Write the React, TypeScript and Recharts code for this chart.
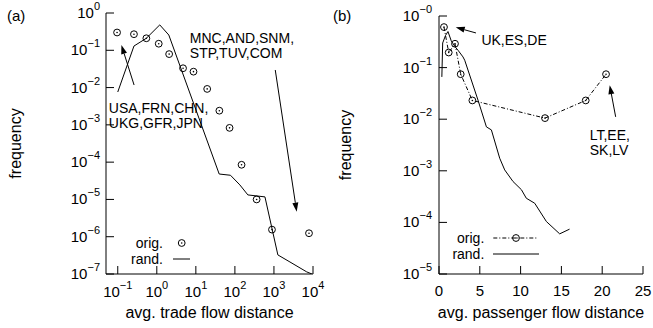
import React from "react";
import {
  Legend,
  ReferenceDot,
  ReferenceLine,
  Scatter,
  ScatterChart,
  XAxis,
  YAxis,
} from "recharts";

// (a) trade flow, log-log
const tradeXTicks = [0.1, 1, 10, 100, 1000, 10000];
const tradeXExp = ["−1", "0", "1", "2", "3", "4"];
const tradeYTicks = [1e-7, 1e-6, 1e-5, 1e-4, 1e-3, 1e-2, 1e-1, 1];
const tradeYExp = ["−7", "−6", "−5", "−4", "−3", "−2", "−1", "0"];

const tradeOrigX = [0.096, 0.26, 0.54, 1.12, 2.07, 4.7, 8.7, 19.5, 40, 73, 148, 360, 890, 7900];
const tradeOrigY = [0.3, 0.27, 0.21, 0.15, 0.079, 0.033, 0.0267, 0.0092, 0.0024, 0.00083, 8.5e-5, 1.0e-5, 1.55e-6, 1.24e-6];

const tradeRandX = [0.1, 0.26, 0.54, 1.19, 2.03, 39.6, 77, 134, 215, 588, 1260, 2570, 6900, 9400];
const tradeRandY = [0.0076, 0.13, 0.21, 0.48, 0.257, 4.8e-5, 4.45e-5, 2.45e-5, 1.32e-5, 1.17e-5, 3.25e-7, 2.1e-7, 1.14e-7, 1e-7];

// (b) passenger flow, lin-log
const passXTicks = [0, 5, 10, 15, 20, 25];
const passYTicks = [1e-5, 1e-4, 1e-3, 1e-2, 1e-1, 1];
const passYExp = ["−5", "−4", "−3", "−2", "−1", "−0"];

const passOrigX = [0.61, 1.19, 1.96, 2.66, 4.09, 12.99, 17.98, 20.47];
const passOrigY = [0.61, 0.196, 0.29, 0.0745, 0.0231, 0.0105, 0.0231, 0.0745];

const passRandX = [0.35, 0.45, 0.8, 1.1, 1.5, 2.0, 2.33, 2.94, 3.15, 4.78, 5.81, 6.42, 7.44, 8.05, 9.07, 10.1, 10.7, 11.73, 13.16, 14.79, 16.0];
const passRandY = [0.066, 0.3, 0.42, 0.5, 0.33, 0.25, 0.217, 0.161, 0.139, 0.0234, 0.0071, 0.0062, 0.00175, 0.00104, 0.00062, 0.00043, 0.000294, 0.000235, 0.000104, 6.0e-5, 7.4e-5];

const zip = (xs: number[], ys: number[]) => xs.map((x, i) => ({ x, y: ys[i] }));

const FONT = "'Liberation Sans', Arial, Helvetica, sans-serif";
const TICK_FS = 15;
const SUP_FS = 11;
const TITLE_FS = 16;
const LEG_FS = 14;

function Ring(props: any) {
  const { cx, cy } = props;
  return (
    <g>
      <circle cx={cx} cy={cy} r={3.4} fill="none" stroke="#000" strokeWidth={1} />
      <circle cx={cx} cy={cy} r={0.8} fill="#000" />
    </g>
  );
}

const NoDot = () => <g />;
const NoTick = () => <g />;

function Arrow(props: any) {
  const { x1, y1, x2, y2 } = props;
  const a = Math.atan2(y2 - y1, x2 - x1);
  const L = 9;
  const W = 3;
  const bx = x2 - L * Math.cos(a);
  const by = y2 - L * Math.sin(a);
  const px = -Math.sin(a) * W;
  const py = Math.cos(a) * W;
  return (
    <g>
      <line x1={x1} y1={y1} x2={bx} y2={by} stroke="#000" strokeWidth={1} />
      <polygon points={`${x2},${y2} ${bx + px},${by + py} ${bx - px},${by - py}`} fill="#000" />
    </g>
  );
}

function textBlock(lines: string[]) {
  return (props: any) => (
    <text x={props.cx} y={props.cy} fontSize={14} fill="#000">
      {lines.map((l, i) => (
        <tspan key={i} x={props.cx} dy={i === 0 ? 0 : 15}>
          {l}
        </tspan>
      ))}
    </text>
  );
}

// look the exponent up by tick value, so dropped ticks can't shift labels
function expOf(ticks: number[], exps: string[], v: number) {
  let best = 0;
  ticks.forEach((t, i) => {
    if (Math.abs(Math.log10(t) - Math.log10(v)) < Math.abs(Math.log10(ticks[best]) - Math.log10(v))) best = i;
  });
  return exps[best];
}

function powXTick(ticks: number[], exps: string[]) {
  return (props: any) => {
    const { x, y, payload } = props;
    return (
      <text x={x} y={y + 23} textAnchor="middle" fontSize={TICK_FS} fill="#000">
        10
        <tspan dy={-8} fontSize={SUP_FS}>
          {expOf(ticks, exps, payload.value)}
        </tspan>
      </text>
    );
  };
}

function powYTick(ticks: number[], exps: string[]) {
  return (props: any) => {
    const { x, y, payload } = props;
    return (
      <text x={x} y={y + 5} textAnchor="end" fontSize={TICK_FS} fill="#000">
        10
        <tspan dy={-8} fontSize={SUP_FS}>
          {expOf(ticks, exps, payload.value)}
        </tspan>
      </text>
    );
  };
}

function numXTick(props: any) {
  const { x, y, payload } = props;
  return (
    <text x={x} y={y + 22} textAnchor="middle" fontSize={TICK_FS} fill="#000">
      {payload.value}
    </text>
  );
}

const axisLine = { stroke: "#000", strokeWidth: 1 };
const tickLine = { stroke: "#000", strokeWidth: 1 };

function LegendA() {
  return (
    <svg width={80} height={40} style={{ display: "block" }}>
      <text x={43} y={18} textAnchor="end" fontSize={LEG_FS} fill="#000">orig.</text>
      <Ring cx={61.7} cy={13} />
      <text x={43} y={34} textAnchor="end" fontSize={LEG_FS} fill="#000">rand.</text>
      <line x1={53} y1={29} x2={70} y2={29} stroke="#000" strokeWidth={1} />
    </svg>
  );
}

function LegendB() {
  return (
    <svg width={110} height={40} style={{ display: "block" }}>
      <text x={44.3} y={18} textAnchor="end" fontSize={LEG_FS} fill="#000">orig.</text>
      <line x1={53.3} y1={13} x2={98.3} y2={13} stroke="#000" strokeWidth={1} strokeDasharray="4 2 1 2" />
      <Ring cx={76} cy={13} />
      <text x={44.3} y={34} textAnchor="end" fontSize={LEG_FS} fill="#000">rand.</text>
      <line x1={53} y1={29} x2={99} y2={29} stroke="#000" strokeWidth={1} />
    </svg>
  );
}

function TradeChart() {
  const xDomain = [0.05, 10000];
  const yDomain = [1e-7, 1];
  return (
    <ScatterChart width={326} height={328} margin={{ top: 13, right: 13, bottom: 0, left: 0 }}>
      <XAxis
        dataKey="x"
        type="number"
        scale="log"
        domain={xDomain}
        ticks={tradeXTicks}
        interval={0}
        allowDataOverflow
        height={54}
        axisLine={axisLine}
        tickLine={tickLine}
        tickSize={-8}
        tickMargin={8}
        tick={powXTick(tradeXTicks, tradeXExp)}
        label={{ value: "avg. trade flow distance", position: "insideBottom", offset: 10, fill: "#000", fontSize: TITLE_FS }}
      />
      <XAxis
        xAxisId="top"
        orientation="top"
        type="number"
        scale="log"
        domain={xDomain}
        ticks={tradeXTicks}
        interval={0}
        allowDataOverflow
        height={0}
        axisLine={axisLine}
        tickLine={tickLine}
        tickSize={-8}
        tick={NoTick}
      />
      <YAxis
        dataKey="y"
        type="number"
        scale="log"
        domain={yDomain}
        ticks={tradeYTicks}
        interval={0}
        allowDataOverflow
        width={106}
        axisLine={axisLine}
        tickLine={tickLine}
        tickSize={-8}
        tickMargin={14}
        tick={powYTick(tradeYTicks, tradeYExp)}
        label={{ value: "frequency", angle: -90, position: "insideLeft", offset: 15, fill: "#000", fontSize: TITLE_FS, style: { textAnchor: "middle" } }}
      />
      <YAxis
        yAxisId="right"
        orientation="right"
        type="number"
        scale="log"
        domain={yDomain}
        ticks={tradeYTicks}
        interval={0}
        allowDataOverflow
        width={0}
        axisLine={axisLine}
        tickLine={tickLine}
        tickSize={-8}
        tick={NoTick}
      />
      <Scatter
        name="rand."
        data={zip(tradeRandX, tradeRandY)}
        line={{ stroke: "#000", strokeWidth: 1 }}
        lineType="joint"
        shape={NoDot}
        isAnimationActive={false}
      />
      <Scatter name="orig." data={zip(tradeOrigX, tradeOrigY)} shape={Ring} isAnimationActive={false} />
      <ReferenceLine segment={[{ x: 0.262, y: 0.0117 }, { x: 0.124, y: 0.139 }]} shape={Arrow} />
      <ReferenceLine segment={[{ x: 1080, y: 0.0296 }, { x: 3820, y: 4.7e-6 }]} shape={Arrow} />
      <ReferenceDot x={7.0} y={0.157} r={0} shape={textBlock(["MNC,AND,SNM,", "STP,TUV,COM"])} />
      <ReferenceDot x={0.059} y={0.0021} r={0} shape={textBlock(["USA,FRN,CHN,", "UKG,GFR,JPN"])} />
      <Legend
        layout="horizontal"
        verticalAlign="middle"
        align="center"
        content={() => <LegendA />}
        wrapperStyle={{ left: 120, top: 230, width: 80, height: 40 }}
      />
    </ScatterChart>
  );
}

function PassengerChart() {
  const xDomain = [0, 25];
  const yDomain = [1e-5, 1];
  return (
    <ScatterChart width={323} height={328} margin={{ top: 16, right: 10, bottom: 0, left: 0 }}>
      <XAxis
        dataKey="x"
        type="number"
        domain={xDomain}
        ticks={passXTicks}
        interval={0}
        allowDataOverflow
        height={54}
        axisLine={axisLine}
        tickLine={tickLine}
        tickSize={-8}
        tickMargin={8}
        tick={numXTick}
        label={{ value: "avg. passenger flow distance", position: "insideBottom", offset: 10, fill: "#000", fontSize: TITLE_FS }}
      />
      <XAxis
        xAxisId="top"
        orientation="top"
        type="number"
        domain={xDomain}
        ticks={passXTicks}
        interval={0}
        allowDataOverflow
        height={0}
        axisLine={axisLine}
        tickLine={tickLine}
        tickSize={-8}
        tick={NoTick}
      />
      <YAxis
        dataKey="y"
        type="number"
        scale="log"
        domain={yDomain}
        ticks={passYTicks}
        interval={0}
        allowDataOverflow
        width={109}
        axisLine={axisLine}
        tickLine={tickLine}
        tickSize={-8}
        tickMargin={15}
        tick={powYTick(passYTicks, passYExp)}
        label={{ value: "frequency", angle: -90, position: "insideLeft", offset: 15, fill: "#000", fontSize: TITLE_FS, style: { textAnchor: "middle" } }}
      />
      <YAxis
        yAxisId="right"
        orientation="right"
        type="number"
        scale="log"
        domain={yDomain}
        ticks={passYTicks}
        interval={0}
        allowDataOverflow
        width={0}
        axisLine={axisLine}
        tickLine={tickLine}
        tickSize={-8}
        tick={NoTick}
      />
      <Scatter
        name="rand."
        data={zip(passRandX, passRandY)}
        line={{ stroke: "#000", strokeWidth: 1 }}
        lineType="joint"
        shape={NoDot}
        isAnimationActive={false}
      />
      <Scatter
        name="orig."
        data={zip(passOrigX, passOrigY)}
        line={{ stroke: "#000", strokeWidth: 1, strokeDasharray: "4 2 1 2" }}
        lineType="joint"
        shape={Ring}
        isAnimationActive={false}
      />
      <ReferenceLine segment={[{ x: 4.53, y: 0.469 }, { x: 2.05, y: 0.604 }]} shape={Arrow} />
      <ReferenceLine segment={[{ x: 21.65, y: 0.0111 }, { x: 20.92, y: 0.0457 }]} shape={Arrow} />
      <ReferenceDot x={5.2} y={0.271} r={0} shape={textBlock(["UK,ES,DE"])} />
      <ReferenceDot x={18.47} y={0.00394} r={0} shape={textBlock(["LT,EE,", "SK,LV"])} />
      <Legend
        layout="horizontal"
        verticalAlign="middle"
        align="center"
        content={() => <LegendB />}
        wrapperStyle={{ left: 110, top: 225, width: 110, height: 40 }}
      />
    </ScatterChart>
  );
}

export default function App() {
  return (
    <div style={{ position: "absolute", left: 0, top: 0, width: 653, height: 328, fontFamily: FONT, background: "#fff", overflow: "hidden" }}>
      <div style={{ position: "absolute", left: 0, top: 0 }}>
        <TradeChart />
      </div>
      <div style={{ position: "absolute", left: 330, top: 0 }}>
        <PassengerChart />
      </div>
      <svg width={653} height={30} style={{ position: "absolute", left: 0, top: 0, pointerEvents: "none" }}>
        <text x={7} y={21} fontSize={15} fill="#000">(a)</text>
        <text x={333} y={21} fontSize={15} fill="#000">(b)</text>
      </svg>
    </div>
  );
}
